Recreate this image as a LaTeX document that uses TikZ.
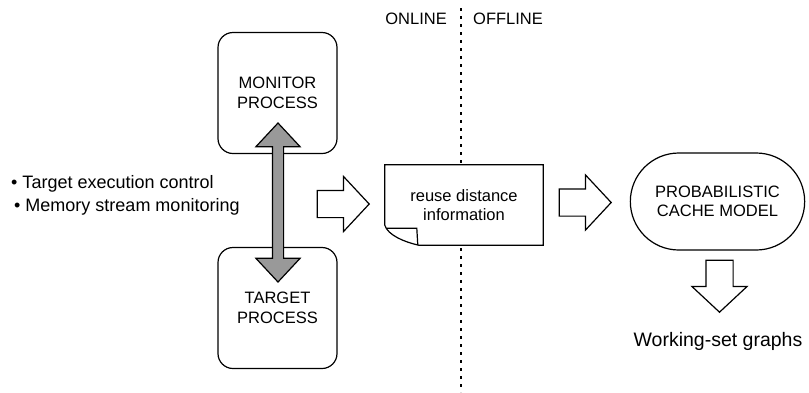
\documentclass[tikz,border=0pt]{standalone}
\usepackage{fontspec}
\setmainfont{Liberation Sans}
\usetikzlibrary{shapes.arrows,shapes.misc,backgrounds}

\begin{document}
\begin{tikzpicture}[x=1pt, y=-1pt,
		every node/.style={font=\fontsize{16.5}{19.5}\selectfont, align=center},
		proc/.style={draw, line width=1.2pt, rounded corners=15pt, minimum width=119pt, minimum height=121pt},
		model/.style={draw, line width=1.2pt, rounded rectangle, minimum width=181pt, minimum height=97pt},
		doc/.style={minimum width=158pt, minimum height=80pt},
		item/.style={anchor=base west, inner sep=0pt, font=\fontsize{18}{23}\selectfont},
		flow/.style={single arrow, draw, fill=white, line width=1.2pt, anchor=tip, inner xsep=0pt, inner ysep=13pt, text height=0pt, text depth=0pt, single arrow head extend=14pt, single arrow tip angle=94, minimum height=52pt},
		link/.style={double arrow, draw, fill=black!40, line width=1.2pt, rotate=90, inner xsep=0pt, inner ysep=5pt, text height=0pt, text depth=0pt, double arrow head extend=16.5pt, double arrow tip angle=86, minimum height=159pt},
		divider/.style={line width=1.8pt, dash pattern=on 2.5pt off 5.5pt}]
	\useasboundingbox (0,0) rectangle (809,392);
	\node[proc] (mon) at (277.5, 93) {MONITOR\\PROCESS};
	\node[proc] (tgt) at (277.5, 308) {TARGET\\PROCESS};
	\node[link] (ctl) at (278, 202.5) {};
	\node[item] (exec) at (11, 188) {\textbullet{} Target execution control};
	\node[item] (mem) at (14, 211) {\textbullet{} Memory stream monitoring};
	\node[doc] (reuse) at (464, 205) {reuse distance\\information};
	\node[model] (model) at (717.5, 201.5) {PROBABILISTIC\\CACHE MODEL};
	\node[anchor=base, inner sep=0pt, font=\fontsize{19.5}{22}\selectfont] (wsg) at (718, 346.5) {Working-set graphs};
	\node[anchor=base east, inner sep=0pt] (online) at (447, 24) {ONLINE};
	\node[anchor=base west, inner sep=0pt] (offline) at (473, 24) {OFFLINE};
	\coordinate (divtop) at (461, 8);
	\coordinate (divbot) at (461, 392);
	\node[flow] (toreuse) at (370, 204) {};
	\node[flow] (tomodel) at (612, 202.5) {};
	\node[flow, rotate=-90] (tographs) at (719.5, 313) {};
	\begin{scope}[on background layer]
		\draw[divider] (divtop) -- (divbot);
		\draw[line width=1.2pt, fill=white] (reuse.north west) -- (reuse.north east) -- (reuse.south east)
			-- ([xshift=34pt]reuse.south west)
			.. controls ([xshift=20pt, yshift=3pt]reuse.south west) and ([xshift=3pt, yshift=10pt]reuse.south west) .. ([yshift=20pt]reuse.south west)
			-- cycle;
		\draw[line width=1.2pt] ([xshift=2pt, yshift=17pt]reuse.south west) -- ([xshift=32pt, yshift=17pt]reuse.south west) -- ([xshift=33pt]reuse.south west);
	\end{scope}
\end{tikzpicture}
\end{document}
